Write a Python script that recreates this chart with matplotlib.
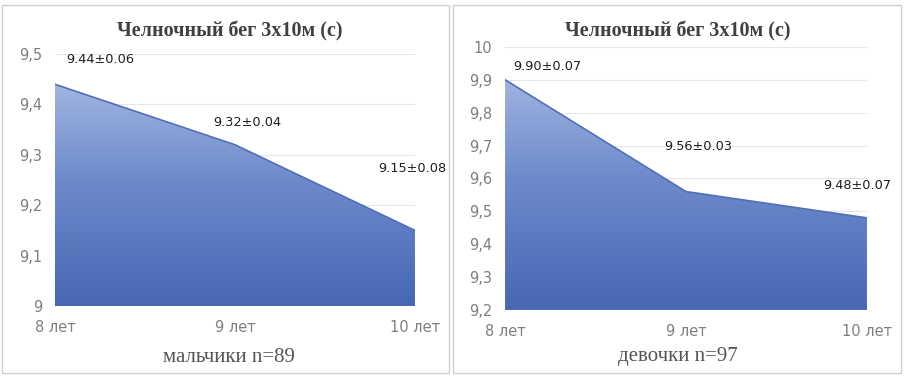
import matplotlib
matplotlib.use("Agg")
import matplotlib.pyplot as plt
import numpy as np
from matplotlib.colors import LinearSegmentedColormap
from matplotlib.patches import Rectangle, Polygon

categories = ["8 лет", "9 лет", "10 лет"]
boys = [9.44, 9.32, 9.15]
boys_labels = ["9.44±0.06", "9.32±0.04", "9.15±0.08"]
girls = [9.90, 9.56, 9.48]
girls_labels = ["9.90±0.07", "9.56±0.03", "9.48±0.07"]
title = "Челночный бег 3х10м (с)"
boys_xlabel = "мальчики n=89"
girls_xlabel = "девочки n=97"
boys_yticks = [9.0, 9.1, 9.2, 9.3, 9.4, 9.5]
girls_yticks = [9.2, 9.3, 9.4, 9.5, 9.6, 9.7, 9.8, 9.9, 10.0]

fig = plt.figure(figsize=(9.10, 3.78), dpi=100)
cmap = LinearSegmentedColormap.from_list("g", ["#4767b4", "#6d8acb", "#b0c2e7"])


def fmt(v):
    s = ("%.1f" % v).replace(".", ",")
    if s.endswith(",0"):
        s = s[:-2]
    return s


def panel(rect, vals, labels, yticks, xlabel, offsets, title_y, xl_y, cx):
    ax = fig.add_axes(rect)
    x = np.arange(len(vals))
    ymin, ymax = yticks[0], yticks[-1]
    ax.set_xlim(0, len(vals) - 1)
    ax.set_ylim(ymin, ymax)
    for t in yticks:
        ax.axhline(t, color="#e6e6e6", lw=0.8, zorder=0)
    grad = np.linspace(0, 1, 256).reshape(-1, 1)
    im = ax.imshow(grad, extent=[0, len(vals) - 1, ymin, ymax], origin="lower",
                   cmap=cmap, aspect="auto", zorder=1, vmin=0, vmax=1)
    verts = [(0, ymin)] + list(zip(x, vals)) + [(len(vals) - 1, ymin)]
    poly = Polygon(verts, closed=True, facecolor="none", edgecolor="none", transform=ax.transData)
    ax.add_patch(poly)
    im.set_clip_path(poly)
    ax.plot(x, vals, color="#5070b5", lw=1.2, zorder=2)
    for xi, v, lab, off in zip(x, vals, labels, offsets):
        ax.annotate(lab, (xi, v), xytext=off, textcoords="offset pixels",
                    ha="center", va="center", fontsize=9.3, color="#1e1e1e",
                    annotation_clip=False, zorder=3)
    ax.set_yticks(yticks)
    ax.set_yticklabels([fmt(t) for t in yticks], fontsize=10.5, color="#7f7f7f")
    ax.set_xticks(x)
    ax.set_xticklabels(categories, fontsize=10.5, color="#7f7f7f")
    ax.tick_params(length=0, pad=9)
    ax.tick_params(axis="x", pad=10)
    for s in ax.spines.values():
        s.set_visible(False)
    fig.text(cx, title_y, title, ha="center", va="center", fontsize=14.5,
             fontweight="bold", family="Liberation Serif", color="#404040")
    fig.text(cx, xl_y, xlabel, ha="center", va="center", fontsize=15,
             family="Liberation Serif", color="#555555")
    return ax


panel([0.0604, 0.1905, 0.3956, 0.6665], boys, boys_labels, boys_yticks, boys_xlabel,
      [(45, 25), (12, 22), (-3, 62)], 1 - 31 / 378, 1 - 357 / 378, 0.252)
panel([0.555, 0.180, 0.3977, 0.696], girls, girls_labels, girls_yticks, girls_xlabel,
      [(42, 13), (12, 45), (-10, 32)], 1 - 31 / 378, 1 - 357 / 378, 0.745)

fig.add_artist(Rectangle((2 / 910, 5 / 378), 447 / 910, 368 / 378, transform=fig.transFigure,
                         fill=False, edgecolor="#d0d0d0", lw=1))
fig.add_artist(Rectangle((453 / 910, 5 / 378), 448 / 910, 368 / 378, transform=fig.transFigure,
                         fill=False, edgecolor="#d0d0d0", lw=1))

fig.savefig("out.png", dpi=100, facecolor="white")
